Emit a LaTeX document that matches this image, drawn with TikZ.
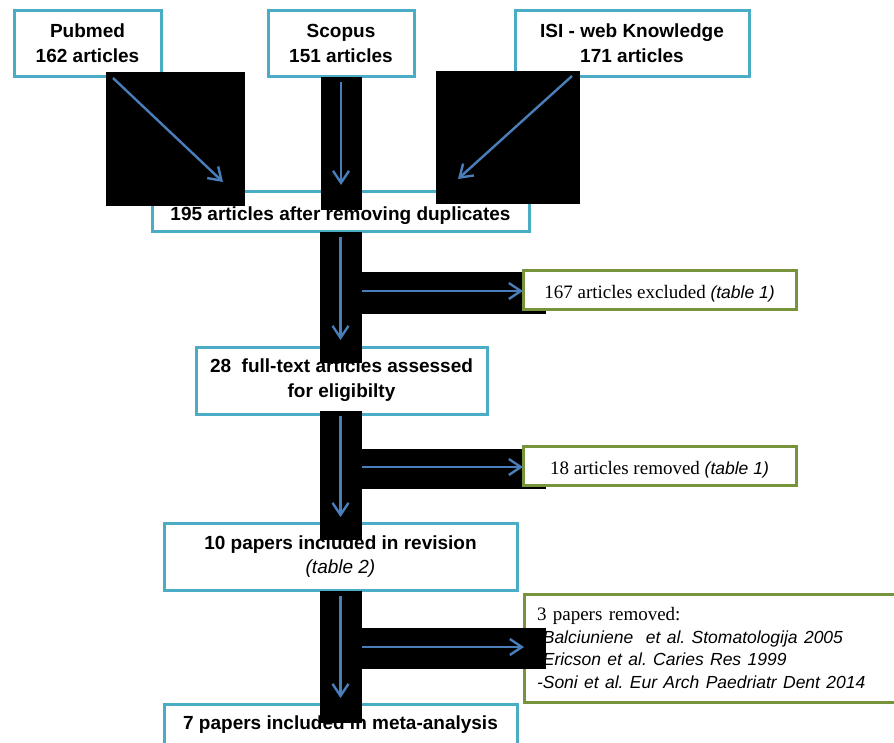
\documentclass[tikz,border=0pt]{standalone}
\usepackage{fontspec}
\setmainfont{Liberation Serif}
\newfontfamily\arialf{Liberation Sans}
\usetikzlibrary{arrows.meta,calc}
\definecolor{boxblue}{HTML}{4BACC6}
\definecolor{boxgreen}{HTML}{77933C}
\definecolor{arrowblue}{HTML}{4A7EBB}
\newcommand\itarial[1]{{\arialf\itshape\fontsize{17.5}{23}\selectfont #1}}
\frenchspacing
\begin{document}
\begin{tikzpicture}[x=1pt,y=-1pt,
  bluebox/.style={draw=boxblue, line width=3pt, fill=white, inner sep=0pt, outer sep=0pt,
    align=center, font=\arialf\bfseries\fontsize{19}{25}\selectfont},
  greenbox/.style={draw=boxgreen, line width=3pt, fill=white, inner sep=0pt, outer sep=0pt,
    align=center, font=\fontsize{19}{23}\selectfont},
  oneline/.style={text height=17pt, text depth=0pt},
  flow/.style={draw=arrowblue, line width=2.4pt, -{Straight Barb[length=12pt,width=16pt]}},
  mask/.style={fill=black}
]
\useasboundingbox (0,0) rectangle (894,742);
\clip (0,0) rectangle (894,742);
\fill[white] (0,0) rectangle (894,742);

% blue boxes
\node[bluebox, minimum width=147pt, minimum height=66pt] (pub) at (87.5,43) {Pubmed\\162 articles};
\node[bluebox, minimum width=146pt, minimum height=66pt] (sco) at (341,43) {Scopus\\151 articles};
\node[bluebox, minimum width=234pt, minimum height=66pt] (isi) at (632,43) {ISI - web Knowledge\\171 articles};
\node[bluebox, minimum width=377pt, minimum height=40pt, text height=18pt, text depth=0pt] (dup) at (340.5,211) {195 articles after removing duplicates};
\node[bluebox, minimum width=291pt, minimum height=67pt] (full) at (341.5,380.5) {28\ \ full-text articles assessed\\for eligibilty};
\node[bluebox, minimum width=353pt, minimum height=67pt] (rev) at (340.5,556.5) {\raisebox{-3pt}{10 papers included in revision}\\\raisebox{-2pt}{\mdseries\itshape (table 2)}};
\node[bluebox, minimum width=353pt, minimum height=67pt] (meta) at (340.5,737.5) {\raisebox{-2pt}{7 papers included in meta-analysis}\\\strut};

% green box drawn below the masks
\node[greenbox, anchor=north west, align=left, text width=360pt, inner xsep=13pt, inner ysep=0pt,
  minimum height=108pt, font=\fontsize{19}{22.5}\selectfont] (rem3) at (524,594)
  {3 papers removed:\\\itarial{-Balciuniene\ \ et al. Stomatologija 2005}\\\itarial{-Ericson et al. Caries Res 1999}\\\itarial{-Soni et al. Eur Arch Paedriatr Dent 2014}};

% black masks
\fill[mask] (106,72) rectangle (245,206);
\fill[mask] (321,77) rectangle (362,210);
\fill[mask] (436,71) rectangle (580,204);
\fill[mask] (320,232) rectangle (362,363);
\fill[mask] (362,272) rectangle (546,314);
\fill[mask] (320,411) rectangle (362,540);
\fill[mask] (362,449) rectangle (546,489);
\fill[mask] (320,591) rectangle (362,723);
\fill[mask] (362,628) rectangle (546,669);

% green boxes drawn above the masks
\node[greenbox, oneline, minimum width=273pt, minimum height=39pt] (excl) at (659.5,289.5) {167 articles excluded \itarial{(table 1)}};
\node[greenbox, oneline, minimum width=273pt, minimum height=39pt] (rem18) at (659.5,465.5) {18 articles removed \itarial{(table 1)}};

% connectors
\coordinate (pubout) at (113,78);
\coordinate (dupinL) at (223,182);
\coordinate (isiout) at (572,76);
\coordinate (dupinR) at (458,179);
\coordinate (j1) at (362,291);
\coordinate (j2) at (362,467);
\coordinate (j3) at (362,647);

\draw[flow] (pubout) -- (dupinL);
\draw[flow] (isiout) -- (dupinR);
\draw[flow, shorten <=6pt, shorten >=6pt] (sco.south) -- (sco.south |- dup.north);
\draw[flow, shorten <=6pt, shorten >=7pt] (dup.south) -- (dup.south |- full.north);
\draw[flow, shorten <=2pt, shorten >=6pt] (full.south -| dup.south) -- (dup.south |- rev.north);
\draw[flow, shorten <=6pt, shorten >=6pt] (rev.south) -- (rev.south |- meta.north);
\draw[flow] (j1) -- (j1 -| excl.west);
\draw[flow] (j2) -- (j2 -| rem18.west);
\draw[flow] (j3) -- (j3 -| rem3.west);
\end{tikzpicture}
\end{document}
